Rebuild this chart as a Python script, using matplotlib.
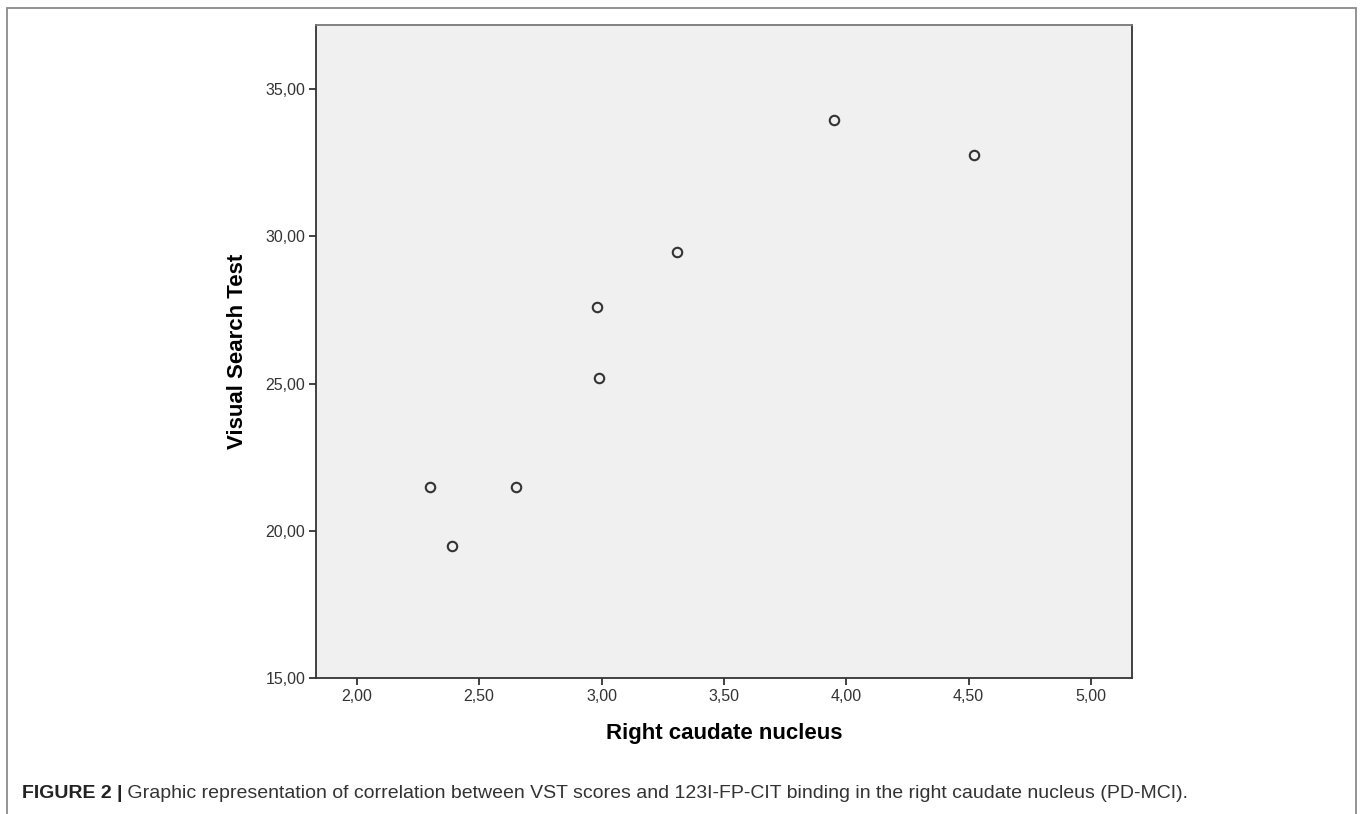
import matplotlib
matplotlib.use('Agg')
import matplotlib.pyplot as plt
from matplotlib.patches import Rectangle
from matplotlib.ticker import FuncFormatter

plt.rcParams['font.family'] = ['Liberation Sans', 'DejaVu Sans']

# data
caudate_right = [2.30, 2.39, 2.65, 2.98, 2.99, 3.31, 3.95, 4.52]
vst_score = [21.47, 19.48, 21.47, 27.61, 25.18, 29.46, 33.96, 32.77]

x_ticks = [2.0, 2.5, 3.0, 3.5, 4.0, 4.5, 5.0]
y_ticks = [15, 20, 25, 30, 35]

x_label = 'Right caudate nucleus'
y_label = 'Visual Search Test'
caption_bold = 'FIGURE 2 |'
caption_text = (' Graphic representation of correlation between VST scores and '
                '123I-FP-CIT binding in the right caudate nucleus (PD-MCI).')

fig = plt.figure(figsize=(13.63, 8.14), dpi=100)
ax = fig.add_axes([0.2321, 0.1675, 0.5982, 0.8018])
ax.set_facecolor('#f0f0f0')

ax.plot(caudate_right, vst_score, 'o', ms=6.8, mfc='none', mec='#333333', mew=1.5)

ax.set_xlim(1.835, 5.166)
ax.set_ylim(15, 37.19)
ax.set_xticks(x_ticks)
ax.set_yticks(y_ticks)
comma = FuncFormatter(lambda v, p: ('%.2f' % v).replace('.', ','))
ax.xaxis.set_major_formatter(comma)
ax.yaxis.set_major_formatter(comma)
ax.tick_params(direction='out', length=5, width=1.3, color='#333333',
               labelsize=11.5, labelcolor='#333333', pad=3)

for s in ax.spines.values():
    s.set_color('#333333')
    s.set_linewidth(1.3)
ax.spines['top'].set_color('#777777')

ax.set_xlabel(x_label, fontsize=16, fontweight='bold', labelpad=14)
ax.set_ylabel(y_label, fontsize=16, fontweight='bold')
ax.yaxis.set_label_coords(-0.084, 0.5)

# outer frame
fig.patches.append(Rectangle((0.0051, -0.02), 0.9897, 1.0102, transform=fig.transFigure,
                             fill=False, ec='#8a8a8a', lw=1.3))

# caption: bold lead then plain text
t1 = fig.text(22 / 1363, 1 - 798 / 814, caption_bold, fontsize=14, fontweight='bold',
              color='#222222')
ax.annotate(caption_text, xy=(1, 0), xycoords=t1, fontsize=14, color='#333333',
            va='bottom', annotation_clip=False)

fig.savefig('out.png', dpi=100)
